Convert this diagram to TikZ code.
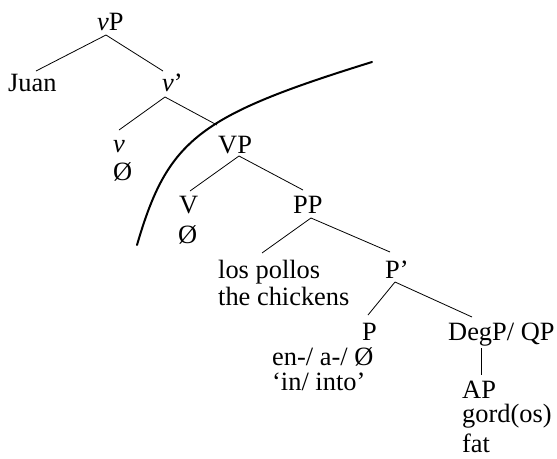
\documentclass[tikz,border=0pt]{standalone}
\usepackage{fontspec}
\setmainfont{Liberation Serif}
\begin{document}
\begin{tikzpicture}[x=1pt,y=-1pt,
  lbl/.style={inner sep=0pt, anchor=base west, font=\fontsize{26.4}{28}\selectfont},
  edge/.style={line width=0.8pt},
  bound/.style={line width=2pt, line cap=round}]
\useasboundingbox (0,0) rectangle (557,458);
% labels
\node[lbl] (vP) at (97,30) {\textit{v}P};
\node[lbl] (Juan) at (8,91) {Juan};
\node[lbl] (vbar) at (162,91) {\textit{v}’};
\node[lbl] (vhead) at (113,152) {\textit{v}};
\node[lbl] (vnull) at (113,180) {Ø};
\node[lbl] (VP) at (218,153) {VP};
\node[lbl] (V) at (179,213) {V};
\node[lbl] (Vnull) at (178,243) {Ø};
\node[lbl] (PP) at (293,213) {PP};
\node[lbl] (pollos) at (218,278) {los pollos};
\node[lbl] (chickens) at (218,305) {the chickens};
\node[lbl] (Pbar) at (385,278) {P’};
\node[lbl] (P) at (362,340) {P};
\node[lbl] (DegP) at (448,340) {DegP/ QP};
\node[lbl] (en) at (272,365) {en-/ a-/ Ø};
\node[lbl] (into) at (272,390) {‘in/ into’};
\node[lbl] (AP) at (462,398) {AP};
\node[lbl] (gord) at (462,422) {gord(os)};
\node[lbl] (fat) at (462,452) {fat};
% edges
\draw[edge] ([shift={(9,5)}]vP.base west) -- ([shift={(28,-20)}]Juan.base west);
\draw[edge] ([shift={(9,5)}]vP.base west) -- ([shift={(1,-20)}]vbar.base west);
\draw[edge] ([shift={(3,6)}]vbar.base west) -- ([shift={(6,-22)}]vhead.base west);
\draw[edge] ([shift={(3,6)}]vbar.base west) -- ([shift={(-1,-28)}]VP.base west);
\draw[edge] ([shift={(21,3)}]VP.base west) -- ([shift={(11,-22)}]V.base west);
\draw[edge] ([shift={(21,3)}]VP.base west) -- ([shift={(10,-23)}]PP.base west);
\draw[edge] ([shift={(18,5)}]PP.base west) -- ([shift={(44,-25)}]pollos.base west);
\draw[edge] ([shift={(18,5)}]PP.base west) -- ([shift={(5,-26)}]Pbar.base west);
\draw[edge] ([shift={(10,4)}]Pbar.base west) -- ([shift={(6,-25)}]P.base west);
\draw[edge] ([shift={(10,4)}]Pbar.base west) -- ([shift={(24,-23)}]DegP.base west);
\draw[edge] ([shift={(33,8)}]DegP.base west) -- ([shift={(19,-23)}]AP.base west);
% boundary curve
\draw[bound] (137,245) .. controls (167.8,139.4) and (198.2,115.9) .. (372,62);
\end{tikzpicture}
\end{document}
